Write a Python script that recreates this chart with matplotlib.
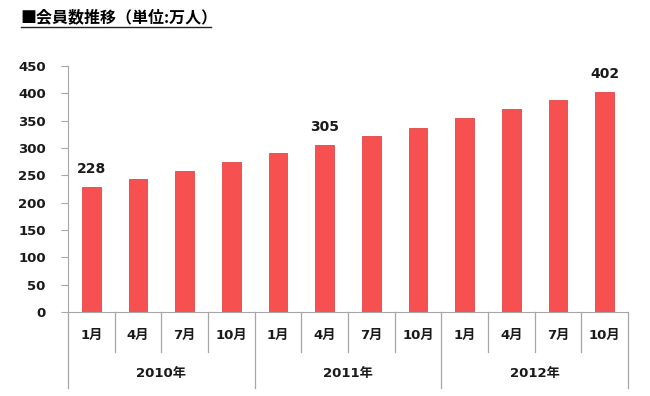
import numpy as np
import matplotlib.pyplot as plt
import matplotlib.transforms as mtransforms

plt.rcParams['font.family'] = ['DejaVu Sans', 'Noto Sans CJK JP']

months = ['1月', '4月', '7月', '10月'] * 3
years = ['2010年', '2011年', '2012年']
members = [228, 243, 258, 274, 290, 305, 322, 337, 355, 371, 387, 402]
labelled = [0, 5, 11]

bar_color = '#F65050'
line_color = '#A6A6A6'

fig = plt.figure(figsize=[6.5, 3.96], dpi=100)
ax = fig.add_axes([0.1046, 0.2121, 0.8615, 0.6212])

x = np.arange(len(members))
ax.bar(x, members, width=0.4, color=bar_color, edgecolor='#E04848', linewidth=0.6)

for i in labelled:
    ax.text(x[i], members[i] + 20, str(members[i]), ha='center', va='bottom',
            fontsize=10, fontweight='bold', color='#1a1a1a')

ax.set_xlim(-0.5, len(members) - 0.5)
ax.set_ylim(0, 450)
ax.set_yticks(np.arange(0, 451, 50))
ax.tick_params(axis='y', length=5, color=line_color, labelsize=9.5, pad=11,
               labelcolor='#1a1a1a')
for lab in ax.get_yticklabels():
    lab.set_fontweight('bold')
ax.set_xticks([])

for s in ['top', 'right']:
    ax.spines[s].set_visible(False)
ax.spines['left'].set_color(line_color)
ax.spines['bottom'].set_color(line_color)

# category boxes under the axis
trans = mtransforms.blended_transform_factory(ax.transData, ax.transAxes)
month_depth = -40 / 246
year_depth = -76 / 246
for b in np.arange(-0.5, len(members), 1.0):
    depth = year_depth if int(b + 0.5) % 4 == 0 else month_depth
    ax.plot([b, b], [0, depth], color=line_color, lw=0.9, transform=trans, clip_on=False)
for i, m in enumerate(months):
    ax.text(i, -23 / 246, m, transform=trans, ha='center', va='center',
            fontsize=9.5, fontweight='bold', color='#1a1a1a')
for j, y in enumerate(years):
    ax.text(4 * j + 1.5, -61 / 246, y, transform=trans, ha='center', va='center',
            fontsize=9.5, fontweight='bold', color='#1a1a1a')

fig.text(0.031, 0.957, '■会員数推移（単位:万人）', fontsize=11.5,
         fontweight='bold', ha='left', va='center', family='Noto Sans CJK JP')
fig.lines.append(plt.Line2D([0.033, 0.325], [0.933, 0.933], color='#222222', lw=1,
                            transform=fig.transFigure))

fig.savefig('out.png', dpi=100)
